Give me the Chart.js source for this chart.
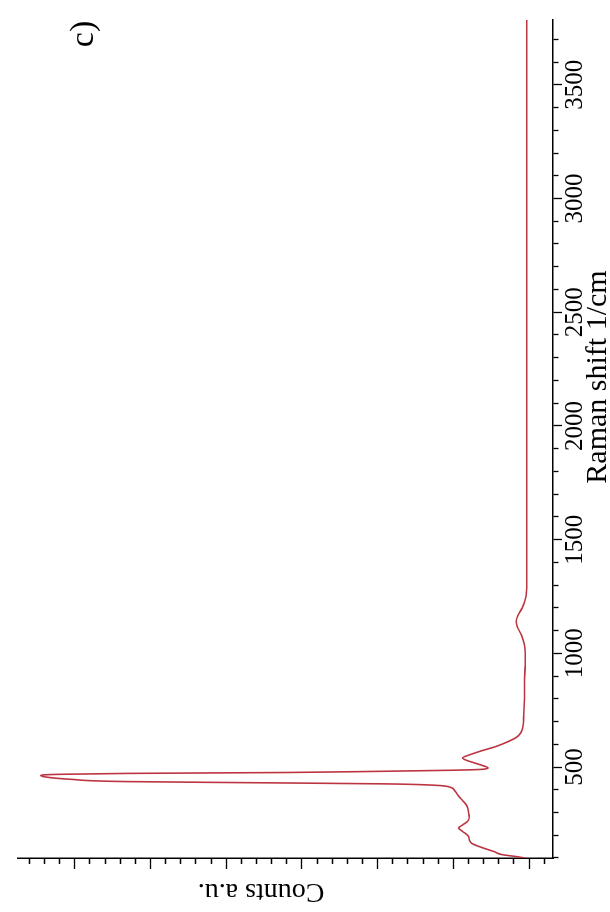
<!DOCTYPE html>
<html>
<head>
<meta charset="utf-8">
<title>Raman spectrum</title>
<script src="https://cdn.jsdelivr.net/npm/chart.js@4.4.1/dist/chart.umd.min.js"></script>
<style>
  html, body { margin: 0; padding: 0; background: #fff; }
  body { width: 610px; height: 912px; overflow: hidden; position: relative; }
  /* the plot is laid out landscape, then turned a quarter turn counter-clockwise */
  #frame {
    position: absolute; left: 0; top: 0;
    width: 912px; height: 610px;
    transform-origin: 0 0;
    transform: translate(0, 912px) rotate(-90deg);
  }
</style>
</head>
<body>
<div id="frame"><canvas id="chart-raman" width="912" height="610"></canvas></div>
<script>
// Raman shift (1/cm) and measured counts (a.u., one unit per major tick)
var ramanShift = [100, 105, 115, 128, 148, 165, 180, 195, 210, 222, 232, 245, 262, 280, 300,
  328, 350, 372, 395, 412, 420, 426, 431, 436, 446, 456, 463, 468, 472, 476, 481, 486, 490,
  496, 505, 518, 530, 540, 552, 570, 590, 610, 630, 650, 680, 733, 800, 883, 950, 1000, 1036,
  1080, 1120, 1142, 1165, 1200, 1250, 1305, 1400, 1600, 2000, 2500, 3000, 3500, 3785];
var counts = [0.06, 0.14, 0.36, 0.46, 0.64, 0.76, 0.79, 0.80, 0.85, 0.90, 0.93, 0.88, 0.81, 0.79, 0.80,
  0.82, 0.87, 0.93, 0.98, 1.05, 1.25, 1.9, 3.6, 5.3, 6.05, 6.38, 6.45, 6.2, 5.3, 3.2, 2.0, 1.0, 0.62,
  0.54, 0.60, 0.72, 0.83, 0.88, 0.80, 0.64, 0.44, 0.29, 0.17, 0.11, 0.08, 0.07, 0.06, 0.06, 0.05, 0.05, 0.06,
  0.10, 0.16, 0.17, 0.15, 0.09, 0.04, 0.03, 0.03, 0.03, 0.03, 0.03, 0.03, 0.03, 0.03];
var shiftLabels = [500, 1000, 1500, 2000, 2500, 3000, 3500];
var shiftTitle = "Raman shift 1/cm";
var countsTitle = "Counts a.u.";
var panelTag = "c)";

(function () {
  "use strict";

  var SERIF = "'Liberation Serif', 'Times New Roman', serif";

  function shiftTicks() {
    var out = [];
    for (var v = 100; v <= 3700; v += 100) out.push({ value: v });
    return out;
  }

  function countTicks() {
    var out = [];
    for (var i = -1; i <= 33; i++) out.push({ value: Math.round(i * 2) / 10 });
    return out;
  }

  function isWhole(v) {
    return Math.abs(v - Math.round(v)) < 1e-6;
  }

  // axis captions and the panel letter, placed from the scales
  var captions = {
    id: "captions",
    afterDraw: function (chart) {
      var ctx = chart.ctx;
      var xs = chart.scales.x;
      var ys = chart.scales.y;
      var area = chart.chartArea;
      ctx.save();
      ctx.fillStyle = "#000";
      ctx.textAlign = "center";
      ctx.textBaseline = "middle";

      ctx.font = "30px " + SERIF;
      ctx.fillText(shiftTitle, xs.getPixelForValue(2215), xs.bottom - 12);

      ctx.font = "28px " + SERIF;
      ctx.save();
      ctx.translate(ys.left + 21, ys.getPixelForValue(3.54));
      ctx.rotate(-Math.PI / 2);
      ctx.fillText(countsTitle, 0, 0);
      ctx.restore();

      ctx.font = "34px " + SERIF;
      ctx.fillText(panelTag, area.right - 14, area.top + 66);
      ctx.restore();
    }
  };

  var points = ramanShift.map(function (s, i) {
    return { x: s, y: counts[i] };
  });

  new Chart(document.getElementById("chart-raman"), {
    type: "line",
    data: {
      datasets: [{
        data: points,
        borderColor: "#bb3440",
        borderWidth: 1.6,
        pointRadius: 0,
        cubicInterpolationMode: "monotone",
        fill: false
      }]
    },
    options: {
      responsive: false,
      animation: false,
      events: [],
      layout: { padding: { top: 18, right: 20, left: 0, bottom: 0 } },
      plugins: { legend: { display: false }, tooltip: { enabled: false } },
      scales: {
        x: {
          type: "linear",
          position: "bottom",
          min: 100,
          max: 3785,
          afterBuildTicks: function (scale) { scale.ticks = shiftTicks(); },
          afterFit: function (scale) { scale.height = 57; },
          border: { display: true, color: "#000", width: 1.5 },
          grid: {
            drawOnChartArea: false,
            drawTicks: true,
            tickLength: 9,
            tickColor: "#000",
            tickWidth: 1.3,
            tickBorderDash: function (ctx) {
              return shiftLabels.indexOf(ctx.tick.value) >= 0 ? [] : [5, 40];
            }
          },
          ticks: {
            autoSkip: false,
            maxRotation: 0,
            padding: 1,
            color: "#000",
            font: { family: SERIF, size: 25, lineHeight: 1 },
            // minor ticks keep their mark but carry no label
            callback: function (value) {
              return shiftLabels.indexOf(value) >= 0 ? String(value) : "";
            }
          },
          title: { display: false }
        },
        y: {
          type: "linear",
          position: "left",
          min: -0.316,
          max: 6.75,
          afterBuildTicks: function (scale) { scale.ticks = countTicks(); },
          afterFit: function (scale) { scale.width = 54; },
          border: { display: true, color: "#000", width: 1.5 },
          grid: {
            drawOnChartArea: false,
            drawTicks: true,
            tickLength: 11,
            tickColor: "#000",
            tickWidth: 1.3,
            tickBorderDash: function (ctx) {
              // ticks run from the outer end toward the axis line
              return isWhole(ctx.tick.value) ? [] : [0, 5, 6, 40];
            }
          },
          ticks: { display: false, autoSkip: false },
          title: { display: false }
        }
      }
    },
    plugins: [captions]
  });
})();
</script>
</body>
</html>
